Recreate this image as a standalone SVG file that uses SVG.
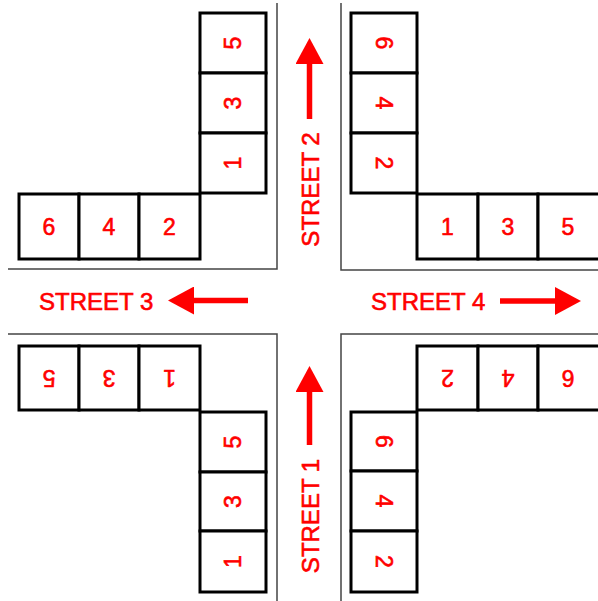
<svg xmlns="http://www.w3.org/2000/svg" width="598" height="601" viewBox="0 0 598 601">
<style>
.bay rect{fill:#fff;stroke:#000;stroke-width:3}
.bay text{font-family:"Liberation Sans",Arial,sans-serif;font-size:23px;fill:#f00;stroke:#f00;stroke-width:0.6;text-anchor:middle}
.curb{fill:none;stroke:#444;stroke-width:1.5}
.shaft{stroke:#f00;stroke-width:5.5;fill:none;marker-end:url(#head)}
.lbl{font-family:"Liberation Sans",Arial,sans-serif;font-size:24px;fill:#f00;stroke:#f00;stroke-width:0.6}
</style>
<defs>
<marker id="head" viewBox="0 0 26 28" refX="0" refY="14" markerWidth="26" markerHeight="28" markerUnits="userSpaceOnUse" orient="auto">
<path d="M0,0 L26,14 L0,28 z" fill="#f00"/>
</marker>
</defs>
<rect width="598" height="601" fill="#fff"/>
<g id="curbs">
<path class="curb" d="M277,3 V269 H8"/>
<path class="curb" d="M341,3 V270 H598"/>
<path class="curb" d="M8,334 H277 V601"/>
<path class="curb" d="M598,334 H341 V601"/>
</g>
<g id="tl-row">
<g id="tl-r6" class="bay"><rect x="19" y="194" width="60" height="65"/><text x="49" y="234.5">6</text></g>
<g id="tl-r4" class="bay"><rect x="79" y="194" width="60" height="65"/><text x="109" y="234.5">4</text></g>
<g id="tl-r2" class="bay"><rect x="139" y="194" width="61" height="65"/><text x="169.5" y="234.5">2</text></g>
</g>
<g id="tl-col">
<g id="tl-c5" class="bay"><rect x="200" y="13" width="66" height="60"/><text transform="translate(233,43) rotate(-90)" y="8.25">5</text></g>
<g id="tl-c3" class="bay"><rect x="200" y="73" width="66" height="60"/><text transform="translate(233,103) rotate(-90)" y="8.25">3</text></g>
<g id="tl-c1" class="bay"><rect x="200" y="133" width="66" height="60"/><text transform="translate(233,163) rotate(-90)" y="8.25">1</text></g>
</g>
<g id="tr-col">
<g id="tr-c6" class="bay"><rect x="351" y="13" width="66" height="60"/><text transform="translate(384,43) rotate(90)" y="8.25">6</text></g>
<g id="tr-c4" class="bay"><rect x="351" y="73" width="66" height="60"/><text transform="translate(384,103) rotate(90)" y="8.25">4</text></g>
<g id="tr-c2" class="bay"><rect x="351" y="133" width="66" height="60"/><text transform="translate(384,163) rotate(90)" y="8.25">2</text></g>
</g>
<g id="tr-row">
<g id="tr-r1" class="bay"><rect x="417" y="194" width="61" height="65"/><text x="447.5" y="234.5">1</text></g>
<g id="tr-r3" class="bay"><rect x="478" y="194" width="60" height="65"/><text x="508" y="234.5">3</text></g>
<g id="tr-r5" class="bay"><rect x="538" y="194" width="62" height="65"/><text x="568" y="234.5">5</text></g>
</g>
<g id="bl-row">
<g id="bl-r5" class="bay"><rect x="19" y="346" width="60" height="64"/><text transform="translate(49,378) rotate(180)" y="8.25">5</text></g>
<g id="bl-r3" class="bay"><rect x="79" y="346" width="60" height="64"/><text transform="translate(109,378) rotate(180)" y="8.25">3</text></g>
<g id="bl-r1" class="bay"><rect x="139" y="346" width="61" height="64"/><text transform="translate(169.5,378) rotate(180)" y="8.25">1</text></g>
</g>
<g id="bl-col">
<g id="bl-c5" class="bay"><rect x="200" y="412" width="66" height="60"/><text transform="translate(233,442) rotate(-90)" y="8.25">5</text></g>
<g id="bl-c3" class="bay"><rect x="200" y="472" width="66" height="59"/><text transform="translate(233,501.5) rotate(-90)" y="8.25">3</text></g>
<g id="bl-c1" class="bay"><rect x="200" y="531" width="66" height="61"/><text transform="translate(233,561.5) rotate(-90)" y="8.25">1</text></g>
</g>
<g id="br-row">
<g id="br-r2" class="bay"><rect x="417" y="346" width="61" height="64"/><text transform="translate(447.5,378) rotate(180)" y="8.25">2</text></g>
<g id="br-r4" class="bay"><rect x="478" y="346" width="60" height="64"/><text transform="translate(508,378) rotate(180)" y="8.25">4</text></g>
<g id="br-r6" class="bay"><rect x="538" y="346" width="62" height="64"/><text transform="translate(568,378) rotate(180)" y="8.25">6</text></g>
</g>
<g id="br-col">
<g id="br-c6" class="bay"><rect x="351" y="412" width="66" height="59"/><text transform="translate(384,441.5) rotate(90)" y="8.25">6</text></g>
<g id="br-c4" class="bay"><rect x="351" y="471" width="66" height="60"/><text transform="translate(384,501) rotate(90)" y="8.25">4</text></g>
<g id="br-c2" class="bay"><rect x="351" y="531" width="66" height="61"/><text transform="translate(384,561.5) rotate(90)" y="8.25">2</text></g>
</g>
<g id="arrows">
<line class="shaft" x1="309.5" y1="119" x2="309.5" y2="64"/>
<line class="shaft" x1="309.5" y1="445" x2="309.5" y2="392"/>
<line class="shaft" x1="248" y1="300.5" x2="194" y2="300.5"/>
<line class="shaft" x1="500" y1="301" x2="555" y2="301"/>
</g>
<g id="labels">
<text class="lbl" x="39" y="310">STREET 3</text>
<text class="lbl" x="371" y="310">STREET 4</text>
<text class="lbl" transform="translate(319,189.5) rotate(-90)" text-anchor="middle">STREET 2</text>
<text class="lbl" transform="translate(319,516) rotate(-90)" text-anchor="middle">STREET 1</text>
</g>
</svg>
